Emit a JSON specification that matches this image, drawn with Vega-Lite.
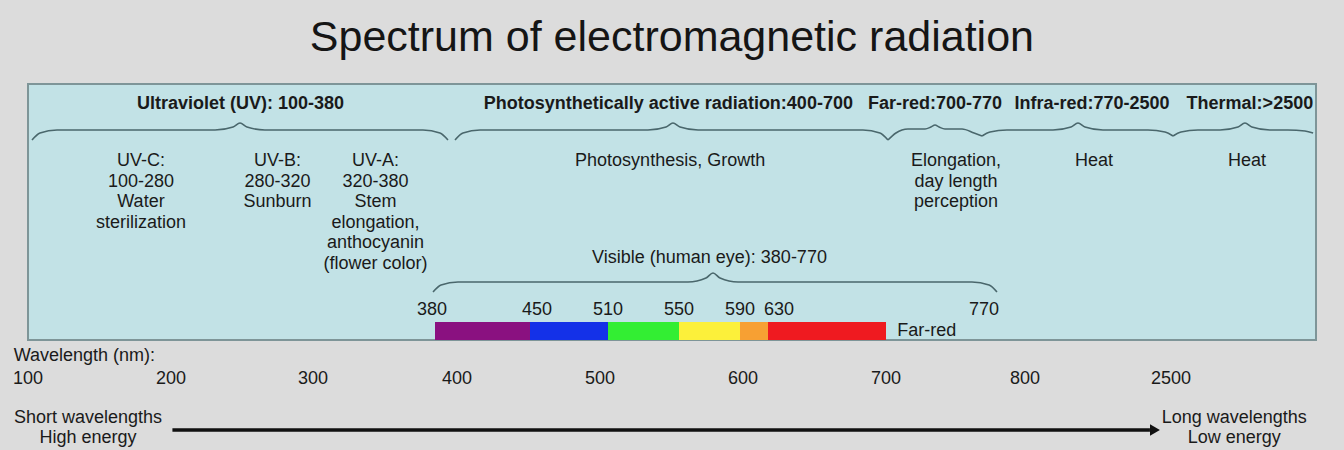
{
  "$schema": "https://vega.github.io/schema/vega-lite/v6.json",
  "width": 1344,
  "height": 450,
  "autosize": {"type": "fit", "contains": "padding"},
  "padding": 0,
  "background": "#dcdcdc",
  "view": {"stroke": null},
  "config": {"text": {"font": "Liberation Sans", "color": "#1a1a1a"}},
  "datasets": {
    "box": [{"from": 100, "to": 3000, "top": 1, "bottom": 13}],
    "bands": [
      {"from": 380, "to": 450, "band": "violet"},
      {"from": 450, "to": 510, "band": "blue"},
      {"from": 510, "to": 550, "band": "green"},
      {"from": 550, "to": 590, "band": "yellow"},
      {"from": 590, "to": 630, "band": "orange"},
      {"from": 630, "to": 700, "band": "red"}
    ],
    "braces": [
      {"b": "uv", "wl": 102.8, "tier": 5}, {"b": "uv", "wl": 108.4, "tier": 4.3}, {"b": "uv", "wl": 120.3, "tier": 4}, {"b": "uv", "wl": 231, "tier": 4}, {"b": "uv", "wl": 243.7, "tier": 3.57}, {"b": "uv", "wl": 248.6, "tier": 3}, {"b": "uv", "wl": 253.5, "tier": 3.57}, {"b": "uv", "wl": 266.2, "tier": 4}, {"b": "uv", "wl": 372.1, "tier": 4}, {"b": "uv", "wl": 384.5, "tier": 4.3}, {"b": "uv", "wl": 391.8, "tier": 5},
      {"b": "par", "wl": 398.2, "tier": 5}, {"b": "par", "wl": 404.1, "tier": 4.3}, {"b": "par", "wl": 415.8, "tier": 4}, {"b": "par", "wl": 532.5, "tier": 4}, {"b": "par", "wl": 542.7, "tier": 3.57}, {"b": "par", "wl": 546.6, "tier": 3}, {"b": "par", "wl": 550.7, "tier": 3.57}, {"b": "par", "wl": 562.5, "tier": 4}, {"b": "par", "wl": 686.3, "tier": 4}, {"b": "par", "wl": 696.4, "tier": 4.3}, {"b": "par", "wl": 701.4, "tier": 5},
      {"b": "fr", "wl": 701.4, "tier": 5}, {"b": "fr", "wl": 707.1, "tier": 4.3}, {"b": "fr", "wl": 715.7, "tier": 3.86}, {"b": "fr", "wl": 727.9, "tier": 3.86}, {"b": "fr", "wl": 732.1, "tier": 3.57}, {"b": "fr", "wl": 735, "tier": 3.29}, {"b": "fr", "wl": 737.9, "tier": 3.57}, {"b": "fr", "wl": 742.1, "tier": 3.86}, {"b": "fr", "wl": 754.3, "tier": 3.86}, {"b": "fr", "wl": 762.9, "tier": 4.3}, {"b": "fr", "wl": 768.6, "tier": 4.6},
      {"b": "ir", "wl": 768.6, "tier": 4.6}, {"b": "ir", "wl": 774.4, "tier": 4.2}, {"b": "ir", "wl": 786.8, "tier": 4}, {"b": "ir", "wl": 1126, "tier": 4}, {"b": "ir", "wl": 1335.5, "tier": 3.57}, {"b": "ir", "wl": 1417, "tier": 3}, {"b": "ir", "wl": 1498.5, "tier": 3.57}, {"b": "ir", "wl": 1708, "tier": 4}, {"b": "ir", "wl": 2232, "tier": 4}, {"b": "ir", "wl": 2430, "tier": 4.2}, {"b": "ir", "wl": 2507, "tier": 4.6},
      {"b": "th", "wl": 2507, "tier": 4.6}, {"b": "th", "wl": 2534.5, "tier": 4.2}, {"b": "th", "wl": 2593, "tier": 4}, {"b": "th", "wl": 2669, "tier": 4}, {"b": "th", "wl": 2731, "tier": 3.57}, {"b": "th", "wl": 2755, "tier": 3}, {"b": "th", "wl": 2779, "tier": 3.57}, {"b": "th", "wl": 2841, "tier": 4}, {"b": "th", "wl": 2903, "tier": 4}, {"b": "th", "wl": 2962, "tier": 4.1}, {"b": "th", "wl": 2990, "tier": 4.3},
      {"b": "vis", "wl": 378.7, "tier": 10}, {"b": "vis", "wl": 385.5, "tier": 9.3}, {"b": "vis", "wl": 400.7, "tier": 9}, {"b": "vis", "wl": 555.9, "tier": 9}, {"b": "vis", "wl": 567.7, "tier": 8.56}, {"b": "vis", "wl": 572.3, "tier": 8}, {"b": "vis", "wl": 576.9, "tier": 8.56}, {"b": "vis", "wl": 588.7, "tier": 9}, {"b": "vis", "wl": 761.4, "tier": 9}, {"b": "vis", "wl": 773.7, "tier": 9.3}, {"b": "vis", "wl": 779.5, "tier": 10}
    ],
    "bold": [
      {"wl": 249, "tier": 2, "text": "Ultraviolet (UV): 100-380"},
      {"wl": 544, "tier": 2, "text": "Photosynthetically active radiation:400-700"},
      {"wl": 735, "tier": 2, "text": "Far-red:700-770"},
      {"wl": 1580, "tier": 2, "text": "Infra-red:770-2500"},
      {"wl": 2772, "tier": 2, "text": "Thermal:>2500"}
    ],
    "desc": [
      {"wl": 179, "tier": 6, "text": "UV-C:\n100-280\nWater\nsterilization"},
      {"wl": 275, "tier": 6, "text": "UV-B:\n280-320\nSunburn"},
      {"wl": 341, "tier": 6, "text": "UV-A:\n320-380\nStem\nelongation,\nanthocyanin\n(flower color)"},
      {"wl": 545, "tier": 6, "text": "Photosynthesis, Growth"},
      {"wl": 750, "tier": 6, "text": "Elongation,\nday length\nperception"},
      {"wl": 1603, "tier": 6, "text": "Heat"},
      {"wl": 2762, "tier": 6, "text": "Heat"}
    ],
    "centered": [
      {"wl": 570, "tier": 7, "text": "Visible (human eye): 380-770"},
      {"wl": 378, "tier": 11, "text": "380"},
      {"wl": 455, "tier": 11, "text": "450"},
      {"wl": 510, "tier": 11, "text": "510"},
      {"wl": 550, "tier": 11, "text": "550"},
      {"wl": 590, "tier": 11, "text": "590"},
      {"wl": 636.5, "tier": 11, "text": "630"},
      {"wl": 770, "tier": 11, "text": "770"},
      {"wl": 100, "tier": 15, "text": "100"},
      {"wl": 200, "tier": 15, "text": "200"},
      {"wl": 300, "tier": 15, "text": "300"},
      {"wl": 400, "tier": 15, "text": "400"},
      {"wl": 500, "tier": 15, "text": "500"},
      {"wl": 600, "tier": 15, "text": "600"},
      {"wl": 700, "tier": 15, "text": "700"},
      {"wl": 800, "tier": 15, "text": "800"},
      {"wl": 2500, "tier": 15, "text": "2500"},
      {"wl": 142, "tier": 16, "text": "Short wavelengths"},
      {"wl": 142, "tier": 18, "text": "High energy"},
      {"wl": 2718, "tier": 16, "text": "Long wavelengths"},
      {"wl": 2718, "tier": 18, "text": "Low energy"}
    ],
    "left": [
      {"wl": 90, "tier": 14, "text": "Wavelength (nm):"},
      {"wl": 708, "tier": 12.5, "text": "Far-red"}
    ],
    "arrow": [{"from": 201, "to": 2255, "tier": 17}],
    "arrowhead": [{"wl": 2313, "tier": 17}],
    "title": [{"wl": 546, "tier": 0, "text": "Spectrum of electromagnetic radiation"}]
  },
  "layer": [
    {
      "data": {"name": "box"},
      "mark": {"type": "rect", "fill": "#c2e2e6", "stroke": "#7e9598", "strokeWidth": 2},
      "encoding": {
        "x": {"field": "from", "type": "quantitative", "axis": null, "scale": {"type": "linear", "domain": [100, 200, 300, 380, 400, 450, 500, 510, 550, 590, 600, 630, 700, 770, 800, 2500, 3000], "range": [28, 171, 313, 435, 457, 530, 600, 608, 679, 740, 743, 768, 886, 984, 1025, 1171, 1316], "zero": false, "nice": false}},
        "x2": {"field": "to"},
        "y": {"field": "top", "type": "quantitative", "axis": null, "scale": {"type": "linear", "domain": [0, 1, 2, 3, 4, 5, 6, 7, 8, 9, 10, 11, 12, 13, 14, 15, 16, 17, 18], "range": [38, 84, 104, 123, 130, 140, 152, 258, 273, 282, 292, 310, 322, 340, 356, 379, 418, 430, 438], "zero": false, "nice": false}},
        "y2": {"field": "bottom"}
      }
    },
    {
      "data": {"name": "bands"},
      "mark": {"type": "rect"},
      "encoding": {
        "x": {"field": "from", "type": "quantitative", "axis": null},
        "x2": {"field": "to"},
        "y": {"datum": 12, "type": "quantitative", "axis": null},
        "y2": {"datum": 13},
        "color": {"field": "band", "type": "nominal", "legend": null, "scale": {"domain": ["violet", "blue", "green", "yellow", "orange", "red"], "range": ["#8a1180", "#1431e8", "#33ee33", "#fcf03a", "#f7a033", "#ef1a20"]}}
      }
    },
    {
      "data": {"name": "braces"},
      "mark": {"type": "line", "interpolate": "monotone", "stroke": "#4a676c", "strokeWidth": 1.6},
      "encoding": {
        "x": {"field": "wl", "type": "quantitative", "axis": null},
        "y": {"field": "tier", "type": "quantitative", "axis": null},
        "detail": {"field": "b"}
      }
    },
    {
      "data": {"name": "bold"},
      "mark": {"type": "text", "fontSize": 18, "fontWeight": "bold", "align": "center", "baseline": "middle"},
      "encoding": {
        "x": {"field": "wl", "type": "quantitative", "axis": null},
        "y": {"field": "tier", "type": "quantitative", "axis": null},
        "text": {"field": "text"}
      }
    },
    {
      "data": {"name": "desc"},
      "mark": {"type": "text", "fontSize": 18, "align": "center", "baseline": "top", "lineBreak": "\n", "lineHeight": 20.6},
      "encoding": {
        "x": {"field": "wl", "type": "quantitative", "axis": null},
        "y": {"field": "tier", "type": "quantitative", "axis": null},
        "text": {"field": "text"}
      }
    },
    {
      "data": {"name": "centered"},
      "mark": {"type": "text", "fontSize": 18, "align": "center", "baseline": "middle"},
      "encoding": {
        "x": {"field": "wl", "type": "quantitative", "axis": null},
        "y": {"field": "tier", "type": "quantitative", "axis": null},
        "text": {"field": "text"}
      }
    },
    {
      "data": {"name": "left"},
      "mark": {"type": "text", "fontSize": 18, "align": "left", "baseline": "middle"},
      "encoding": {
        "x": {"field": "wl", "type": "quantitative", "axis": null},
        "y": {"field": "tier", "type": "quantitative", "axis": null},
        "text": {"field": "text"}
      }
    },
    {
      "data": {"name": "arrow"},
      "mark": {"type": "rule", "stroke": "#111111", "strokeWidth": 3.5},
      "encoding": {
        "x": {"field": "from", "type": "quantitative", "axis": null},
        "x2": {"field": "to"},
        "y": {"field": "tier", "type": "quantitative", "axis": null}
      }
    },
    {
      "data": {"name": "arrowhead"},
      "mark": {"type": "point", "shape": "triangle-right", "filled": true, "color": "#111111", "opacity": 1, "size": 130},
      "encoding": {
        "x": {"field": "wl", "type": "quantitative", "axis": null},
        "y": {"field": "tier", "type": "quantitative", "axis": null}
      }
    },
    {
      "data": {"name": "title"},
      "mark": {"type": "text", "fontSize": 43, "align": "center", "baseline": "middle", "color": "#151515"},
      "encoding": {
        "x": {"field": "wl", "type": "quantitative", "axis": null},
        "y": {"field": "tier", "type": "quantitative", "axis": null},
        "text": {"field": "text"}
      }
    }
  ]
}
